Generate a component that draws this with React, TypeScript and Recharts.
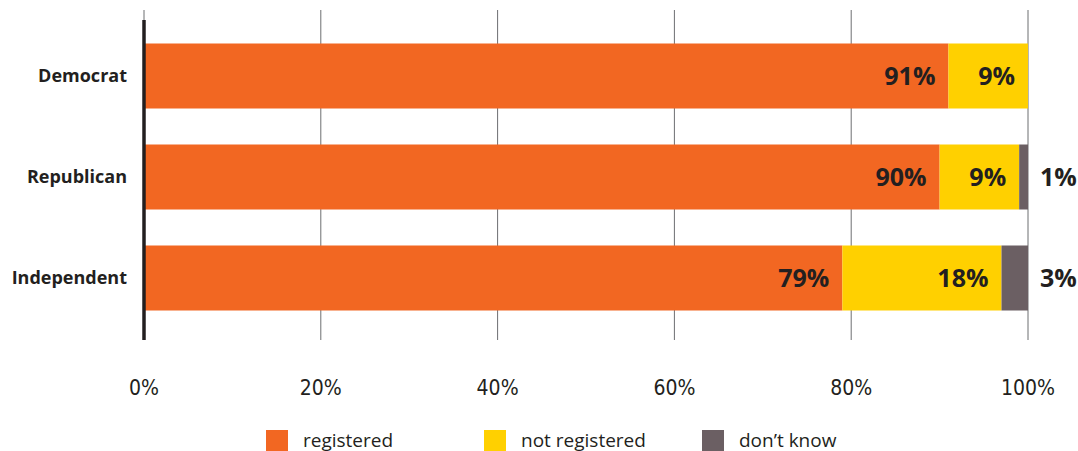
import {
  BarChart,
  Bar,
  XAxis,
  YAxis,
  CartesianGrid,
  Legend,
  LabelList,
  ReferenceLine,
} from "recharts";

// party registration shares, in percent
const parties = ["Democrat", "Republican", "Independent"];
const registered = [91, 90, 79];
const notRegistered = [9, 9, 18];
const dontKnow = [0, 1, 3];
const seriesNames = ["registered", "not registered", "don’t know"];
const xTicks = [0, 20, 40, 60, 80, 100];

const data = parties.map((party, i) => ({
  party,
  registered: registered[i],
  notRegistered: notRegistered[i],
  dontKnow: dontKnow[i],
}));

const INK = "#231F20";
const LABEL_FONT = "'Open Sans', 'Noto Sans', sans-serif";
const TICK_FONT = "'Liberation Sans Narrow', 'DejaVu Sans Condensed', sans-serif";

// value printed inside the segment, right aligned
const InsideLabel = (props: any) => {
  const { x, y, width, height, value } = props;
  if (!value) return null;
  return (
    <text
      x={x + width - 13}
      y={y + height / 2 + 9}
      textAnchor="end"
      fill={INK}
      fontFamily={LABEL_FONT}
      fontWeight={700}
      fontSize={25}
    >
      {value}%
    </text>
  );
};

// small "don't know" shares sit just past the end of the bar
const OutsideLabel = (props: any) => {
  const { x, y, width, height, value } = props;
  if (!value) return null;
  return (
    <text
      x={x + width + 12}
      y={y + height / 2 + 9}
      textAnchor="start"
      fill={INK}
      fontFamily={LABEL_FONT}
      fontWeight={700}
      fontSize={25}
    >
      {value}%
    </text>
  );
};

// vertical layout hands the payload over reversed, so put it back in series order
const LegendContent = (props: any) => {
  const items = [...(props.payload || [])].sort(
    (a: any, b: any) => seriesNames.indexOf(a.value) - seriesNames.indexOf(b.value)
  );
  return (
    <div style={{ height: 31, display: "flex", paddingLeft: 266, boxSizing: "border-box" }}>
      {items.map((it: any) => (
        <div
          key={it.value}
          style={{ width: 218, display: "flex", alignItems: "flex-start", paddingTop: 10 }}
        >
          <span style={{ width: 22, height: 22, background: it.color, display: "inline-block" }} />
          <span
            style={{
              marginLeft: 15,
              fontFamily: LABEL_FONT,
              fontSize: 19,
              color: INK,
              lineHeight: "20px",
            }}
          >
            {it.value}
          </span>
        </div>
      ))}
    </div>
  );
};

export default function App() {
  return (
    <div style={{ position: "absolute", left: 0, top: 0, background: "#fff" }}>
      <BarChart
        width={1078}
        height={451}
        data={data}
        layout="vertical"
        margin={{ top: 10, right: 50, left: 0, bottom: 0 }}
      >
        <CartesianGrid horizontal={false} stroke="#6d6e71" strokeWidth={1} />
        <XAxis
          type="number"
          domain={[0, 100]}
          ticks={xTicks}
          tickFormatter={(v: number) => `${v}%`}
          axisLine={false}
          tickLine={false}
          tickSize={0}
          tickMargin={40}
          height={80}
          interval={0}
          tick={{ fill: INK, fontSize: 21, fontFamily: TICK_FONT }}
        />
        <YAxis
          type="category"
          dataKey="party"
          width={144}
          axisLine={false}
          tickLine={false}
          tickSize={0}
          tickMargin={17}
          padding={{ top: 15.5, bottom: 11.5 }}
          tick={{ fill: INK, fontSize: 18, fontWeight: 700, fontFamily: LABEL_FONT }}
        />
        <Legend
          verticalAlign="bottom"
          align="left"
          wrapperStyle={{ left: 0, width: 1078 }}
          content={<LegendContent />}
        />
        <Bar dataKey="registered" name={seriesNames[0]} stackId="a" fill="#F26722" barSize={65} isAnimationActive={false}>
          <LabelList dataKey="registered" content={<InsideLabel />} />
        </Bar>
        <Bar dataKey="notRegistered" name={seriesNames[1]} stackId="a" fill="#FFD000" barSize={65} isAnimationActive={false}>
          <LabelList dataKey="notRegistered" content={<InsideLabel />} />
        </Bar>
        <Bar dataKey="dontKnow" name={seriesNames[2]} stackId="a" fill="#6B5F63" barSize={65} isAnimationActive={false}>
          <LabelList dataKey="dontKnow" content={<OutsideLabel />} />
        </Bar>
        <ReferenceLine
          x={0}
          shape={(p: any) => (
            <line
              x1={p.x1}
              x2={p.x2}
              y1={Math.min(p.y1, p.y2) + 10}
              y2={Math.max(p.y1, p.y2)}
              stroke={INK}
              strokeWidth={3.5}
            />
          )}
        />
      </BarChart>
    </div>
  );
}
